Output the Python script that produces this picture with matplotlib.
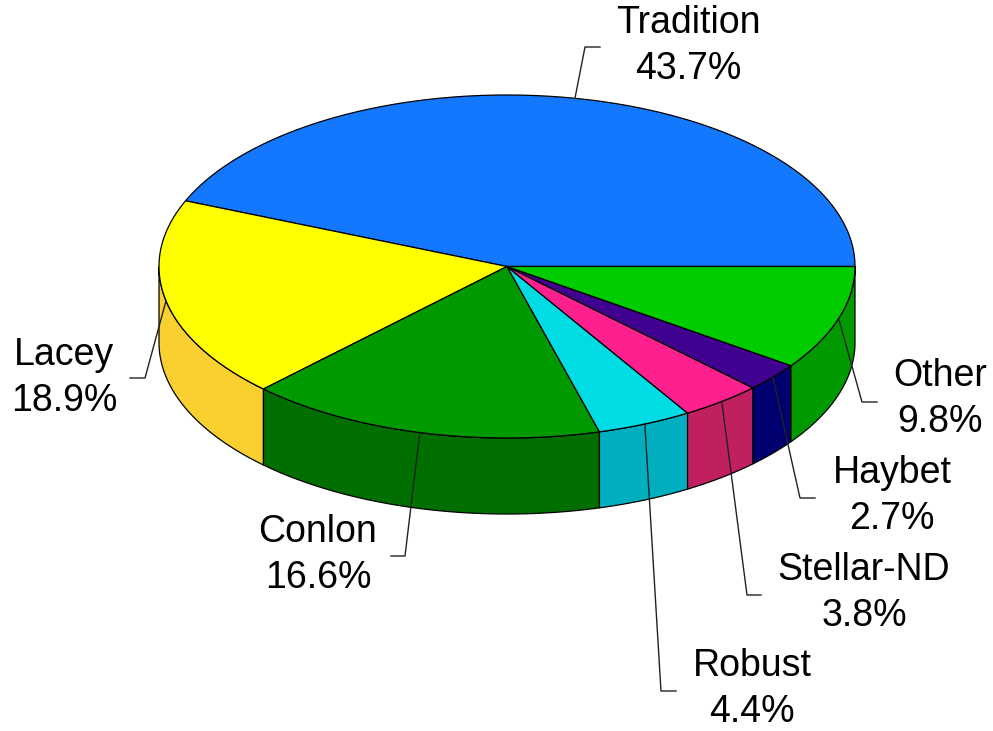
import numpy as np
import matplotlib.pyplot as plt
from matplotlib.patches import Polygon

plt.rcParams['font.family'] = ['Liberation Sans', 'DejaVu Sans']

# data
names = ['Tradition', 'Lacey', 'Conlon', 'Robust', 'Stellar-ND', 'Haybet', 'Other']
pcts = [43.7, 18.9, 16.6, 4.4, 3.8, 2.7, 9.8]

# styles
top_colors = ['#1478FF', '#FFFF00', '#009900', '#00DCE4', '#FF2090', '#400090', '#00CC00']
side_colors = ['#0F5ACC', '#F9D030', '#006F00', '#00AFBF', '#C02060', '#000070', '#009900']

# label layout (pixel coords): text center, leader elbow, leader end
text_pos = [(688, 46), (64, 378), (318, 555), (752, 689), (864, 593), (892, 496), (940, 399)]
elbows = [(585, 47), (145, 378), (405, 556), (661, 691), (747, 595), (800, 498), (862, 402)]
ends = [(600, 47), (130, 378), (391, 556), (676, 691), (761, 595), (815, 498), (877, 402)]

cx, cy, rx, ry, depth = 507, 266.5, 348, 171.5, 76


def pt(a, dy=0.0):
    a = np.radians(a)
    return cx + rx * np.cos(a), cy - ry * np.sin(a) + dy


fig = plt.figure(figsize=(9.93, 7.31), dpi=100)
ax = fig.add_axes([0, 0, 1, 1])
ax.set_xlim(0, 993)
ax.set_ylim(731, 0)
ax.axis('off')

total = sum(pcts)
starts = np.cumsum([0] + pcts[:-1]) / total * 360
spans = np.array(pcts) / total * 360

# side walls (front half, 180..360 degrees)
for s, w, sc in zip(starts, spans, side_colors):
    a1, a2 = max(s, 180), min(s + w, 360)
    if a2 <= a1:
        continue
    t = np.linspace(a1, a2, 100)
    xs, ys = pt(t)
    top = np.column_stack([xs, ys])
    bot = np.column_stack([xs, ys + depth])[::-1]
    ax.add_patch(Polygon(np.vstack([top, bot]), closed=True, facecolor=sc,
                         edgecolor='black', lw=0.9, zorder=1))

# top surface
for s, w, tc in zip(starts, spans, top_colors):
    t = np.linspace(s, s + w, 200)
    xs, ys = pt(t)
    poly = np.vstack([[cx, cy], np.column_stack([xs, ys])])
    ax.add_patch(Polygon(poly, closed=True, facecolor=tc, edgecolor='black',
                         lw=0.9, zorder=2))

# labels with leader lines
for i, (n, p) in enumerate(zip(names, pcts)):
    mid = starts[i] + spans[i] / 2
    x0, y0 = pt(mid)
    ex, ey = elbows[i]
    fx, fy = ends[i]
    ax.plot([x0, ex, fx], [y0, ey, fy], color='#222222', lw=1.0, zorder=3)
    tx, ty = text_pos[i]
    ax.text(tx, ty, f'{n}\n{p:.1f}%', ha='center', va='center', fontsize=27,
            linespacing=1.33, zorder=4)

fig.savefig('out.png', dpi=100)
